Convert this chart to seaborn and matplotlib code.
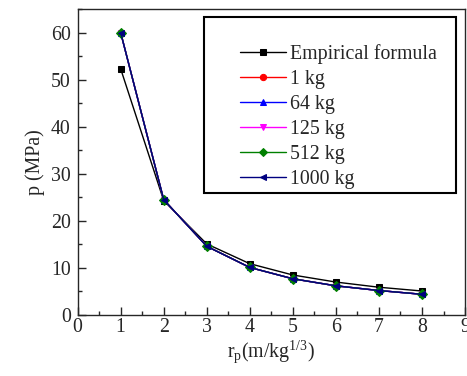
import matplotlib
matplotlib.use("Agg")
import matplotlib.pyplot as plt
import seaborn as sns
import pandas as pd
from matplotlib.ticker import MultipleLocator
from matplotlib.patches import Rectangle

r = [1, 2, 3, 4, 5, 6, 7, 8]
empirical = [52.3, 24.3, 15.1, 10.9, 8.5, 7.0, 5.9, 5.1]
kg1 = [60.0, 24.5, 14.6, 10.1, 7.7, 6.2, 5.2, 4.4]
kg64 = [60.0, 24.5, 14.6, 10.1, 7.7, 6.2, 5.2, 4.4]
kg125 = [60.0, 24.5, 14.6, 10.1, 7.7, 6.2, 5.2, 4.4]
kg512 = [60.0, 24.5, 14.6, 10.1, 7.7, 6.2, 5.2, 4.4]
kg1000 = [60.0, 24.5, 14.6, 10.1, 7.7, 6.2, 5.2, 4.4]

series_names = ["Empirical formula", "1 kg", "64 kg", "125 kg", "512 kg", "1000 kg"]
series_vals = [empirical, kg1, kg64, kg125, kg512, kg1000]
colors = ["black", "red", "blue", "magenta", "green", "navy"]
markers = ["s", "o", "^", "v", "D", "<"]

rows = []
for name, vals in zip(series_names, series_vals):
    for x, y in zip(r, vals):
        rows.append({"r": x, "p": y, "series": name})
df = pd.DataFrame(rows)

sns.set_style("ticks")
plt.rcParams["font.family"] = ["Liberation Serif", "DejaVu Serif"]
plt.rcParams["mathtext.fontset"] = "custom"
plt.rcParams["mathtext.rm"] = "Liberation Serif"
plt.rcParams["mathtext.it"] = "Liberation Serif:italic"

FS = 14.3

fig = plt.figure(figsize=(4.67, 3.76), dpi=100)
ax = fig.add_axes([0.1662, 0.1622, 0.8296, 0.8138])

sns.lineplot(data=df, x="r", y="p", hue="series", style="series",
             hue_order=series_names, style_order=series_names,
             palette=dict(zip(series_names, colors)),
             markers=dict(zip(series_names, markers)),
             dashes=False, markersize=5, linewidth=1.0, ax=ax, legend=True)
for ln in ax.lines:
    ln.set_markeredgecolor(ln.get_color())

ax.set_xlim(0, 9)
ax.set_ylim(0, 65)
ax.xaxis.set_major_locator(MultipleLocator(1))
ax.xaxis.set_minor_locator(MultipleLocator(0.5))
ax.yaxis.set_major_locator(MultipleLocator(10))
ax.yaxis.set_minor_locator(MultipleLocator(5))
ax.tick_params(which="both", direction="in", labelsize=FS, width=1.0)
ax.tick_params(which="major", length=6)
ax.tick_params(which="minor", length=3)
ax.tick_params(axis="x", pad=2)
ax.tick_params(axis="y", pad=5)
for s in ax.spines.values():
    s.set_linewidth(1.0)

ax.set_xlabel(r"r$_\mathregular{p}$(m/kg$^\mathregular{1/3}$)", fontsize=FS, labelpad=1)
ax.set_ylabel("p (MPa)", fontsize=FS, labelpad=4)

leg = ax.legend(loc="upper left", bbox_to_anchor=(0.418, 0.885), fontsize=FS,
                frameon=False, handlelength=2.35, handletextpad=0.2,
                labelspacing=0.30, borderpad=0, borderaxespad=0)
for h in leg.legend_handles:
    try:
        h.set_markeredgecolor(h.get_color())
        h.set_markersize(4.5)
        h.set_linewidth(1.0)
    except Exception:
        pass

ax.add_patch(Rectangle((0.326, 0.400), 0.650, 0.573, transform=ax.transAxes,
                       fill=False, edgecolor="black", linewidth=1.5, zorder=5))

fig.savefig("out.png", dpi=100)
